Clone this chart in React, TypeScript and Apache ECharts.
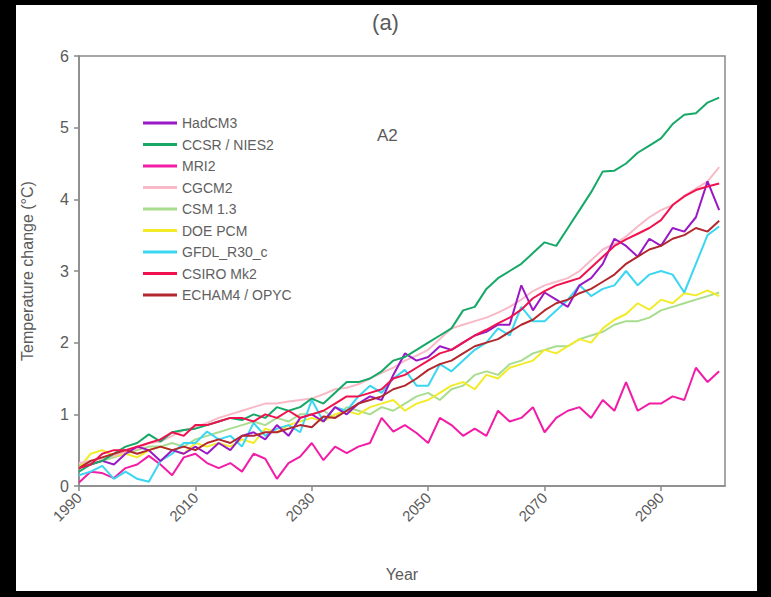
import React, { useEffect, useRef } from 'react';
import * as echarts from 'echarts';

const years = [
  1990, 1992, 1994, 1996, 1998, 2000, 2002, 2004, 2006, 2008,
  2010, 2012, 2014, 2016, 2018, 2020, 2022, 2024, 2026, 2028,
  2030, 2032, 2034, 2036, 2038, 2040, 2042, 2044, 2046, 2048,
  2050, 2052, 2054, 2056, 2058, 2060, 2062, 2064, 2066, 2068,
  2070, 2072, 2074, 2076, 2078, 2080, 2082, 2084, 2086, 2088,
  2090, 2092, 2094, 2096, 2098, 2100,
];

const hadcm3 = [
  0.25, 0.3, 0.35, 0.3, 0.45, 0.55, 0.5, 0.35, 0.5, 0.45,
  0.55, 0.45, 0.6, 0.5, 0.7, 0.75, 0.65, 0.85, 0.7, 0.95,
  1.0, 0.9, 1.1, 1.0, 1.15, 1.25, 1.2, 1.55, 1.85, 1.75,
  1.8, 1.95, 1.9, 2.0, 2.1, 2.15, 2.25, 2.25, 2.8, 2.45,
  2.7, 2.6, 2.5, 2.8, 2.9, 3.1, 3.45, 3.35, 3.2, 3.45,
  3.35, 3.6, 3.55, 3.75, 4.25, 3.85,
];
const ccsr = [
  0.2, 0.3, 0.35, 0.45, 0.55, 0.6, 0.72, 0.62, 0.75, 0.78,
  0.8, 0.85, 0.9, 0.95, 0.92, 1.0, 0.95, 1.1, 1.05, 1.1,
  1.22, 1.15, 1.3, 1.45, 1.45, 1.5, 1.6, 1.75, 1.8, 1.9,
  2.0, 2.1, 2.2, 2.45, 2.5, 2.75, 2.9, 3.0, 3.1, 3.25,
  3.4, 3.35, 3.6, 3.85, 4.1, 4.39, 4.4, 4.5, 4.65, 4.75,
  4.85, 5.05, 5.18, 5.2, 5.35, 5.42,
];
const mri2 = [
  0.05, 0.2, 0.18, 0.11, 0.25, 0.3, 0.42, 0.3, 0.15, 0.4,
  0.45, 0.32, 0.25, 0.32, 0.2, 0.45, 0.38, 0.1, 0.32, 0.41,
  0.6, 0.36, 0.55, 0.46, 0.55, 0.6, 0.95, 0.76, 0.85, 0.74,
  0.6, 0.95, 0.85, 0.7, 0.8, 0.7, 1.05, 0.9, 0.95, 1.1,
  0.75, 0.95, 1.05, 1.1, 0.95, 1.2, 1.05, 1.45, 1.05, 1.15,
  1.15, 1.25, 1.2, 1.65, 1.45, 1.6,
];
const cgcm2 = [
  0.32, 0.35, 0.38, 0.42, 0.48, 0.52, 0.6, 0.62, 0.7, 0.78,
  0.82, 0.88, 0.95, 1.0, 1.05, 1.1, 1.15, 1.15, 1.18, 1.2,
  1.22, 1.28, 1.35, 1.37, 1.42, 1.5, 1.58, 1.65, 1.75, 1.82,
  1.9, 2.05, 2.2, 2.25, 2.3, 2.35, 2.42, 2.5, 2.6, 2.72,
  2.8, 2.85, 2.9, 3.0, 3.15, 3.3, 3.38, 3.48, 3.62, 3.75,
  3.85, 3.92, 4.05, 4.15, 4.25, 4.45,
];
const csm13 = [
  0.3, 0.32, 0.35, 0.4, 0.45, 0.5, 0.55, 0.55, 0.6, 0.55,
  0.65, 0.7, 0.75, 0.8, 0.85, 0.9, 0.85, 0.95, 0.9, 1.0,
  1.0, 1.05, 0.95, 1.1, 1.05, 1.0, 1.1, 1.05, 1.15, 1.25,
  1.3, 1.2, 1.35, 1.4, 1.55, 1.6, 1.55, 1.7, 1.75, 1.85,
  1.9, 1.95, 1.95, 2.05, 2.1, 2.15, 2.25, 2.3, 2.3, 2.35,
  2.45, 2.5, 2.55, 2.6, 2.65, 2.7,
];
const doepcm = [
  0.25, 0.45, 0.5, 0.42, 0.45, 0.4, 0.5, 0.55, 0.5, 0.45,
  0.6, 0.55, 0.6, 0.55, 0.65, 0.6, 0.8, 0.75, 0.85, 0.9,
  0.95, 0.9, 1.0, 1.05, 1.0, 1.1, 1.15, 1.2, 1.05, 1.15,
  1.2, 1.3, 1.4, 1.45, 1.35, 1.55, 1.5, 1.65, 1.7, 1.75,
  1.9, 1.85, 1.95, 2.05, 2.0, 2.2, 2.32, 2.4, 2.55, 2.46,
  2.6, 2.55, 2.69, 2.66, 2.73, 2.65,
];
const gfdl = [
  0.15, 0.2, 0.28, 0.1, 0.2, 0.1, 0.06, 0.35, 0.45, 0.6,
  0.6, 0.76, 0.65, 0.7, 0.55, 0.88, 0.7, 0.8, 0.85, 0.75,
  1.2, 0.9, 1.1, 1.05, 1.25, 1.4, 1.3, 1.5, 1.62, 1.4,
  1.4, 1.7, 1.6, 1.75, 1.9, 2.0, 2.2, 2.1, 2.5, 2.3,
  2.3, 2.45, 2.6, 2.8, 2.65, 2.75, 2.8, 3.0, 2.8, 2.95,
  3.0, 2.95, 2.7, 3.1, 3.5, 3.62,
];
const csiro = [
  0.25, 0.3, 0.45, 0.5, 0.5, 0.55, 0.6, 0.65, 0.75, 0.7,
  0.85, 0.85, 0.9, 0.95, 0.95, 0.9, 1.0, 0.95, 1.05, 0.95,
  1.0, 1.05, 1.15, 1.25, 1.25, 1.3, 1.35, 1.5, 1.55, 1.65,
  1.75, 1.85, 1.9, 2.0, 2.1, 2.18, 2.27, 2.35, 2.46, 2.62,
  2.72, 2.8, 2.85, 2.9, 3.05, 3.2, 3.35, 3.44, 3.52, 3.6,
  3.71, 3.92, 4.04, 4.13, 4.18, 4.22,
];
const echam4 = [
  0.25, 0.35, 0.4, 0.45, 0.5, 0.45, 0.5, 0.55, 0.5, 0.55,
  0.5, 0.6, 0.65, 0.6, 0.7, 0.7, 0.75, 0.75, 0.8, 0.85,
  0.82, 0.97, 0.95, 1.05, 1.15, 1.2, 1.25, 1.35, 1.4, 1.5,
  1.62, 1.7, 1.75, 1.85, 1.95, 2.0, 2.05, 2.15, 2.25, 2.32,
  2.45, 2.55, 2.6, 2.69, 2.75, 2.85, 2.95, 3.1, 3.2, 3.3,
  3.35, 3.45, 3.5, 3.6, 3.55, 3.7,
];

const legendOrder = [
  'HadCM3', 'CCSR / NIES2', 'MRI2', 'CGCM2', 'CSM 1.3',
  'DOE PCM', 'GFDL_R30_c', 'CSIRO Mk2', 'ECHAM4 / OPYC',
];

// drawing order (later on top)
const seriesDefs: { name: string; values: number[]; color: string }[] = [
  { name: 'MRI2', values: mri2, color: '#f21ca6' },
  { name: 'CSM 1.3', values: csm13, color: '#a8dc8e' },
  { name: 'DOE PCM', values: doepcm, color: '#f2ec28' },
  { name: 'GFDL_R30_c', values: gfdl, color: '#3ad6f2' },
  { name: 'CGCM2', values: cgcm2, color: '#f8bac6' },
  { name: 'HadCM3', values: hadcm3, color: '#9a18c6' },
  { name: 'CCSR / NIES2', values: ccsr, color: '#16a866' },
  { name: 'ECHAM4 / OPYC', values: echam4, color: '#b2282e' },
  { name: 'CSIRO Mk2', values: csiro, color: '#f0124e' },
];

const xTicks = [1990, 2010, 2030, 2050, 2070, 2090];
const FONT = 'Liberation Sans';
const GREY = '#5a5a5a';

export default function App() {
  const ref = useRef<HTMLDivElement>(null);
  useEffect(() => {
    document.body.style.margin = '0';
    const chart = echarts.init(ref.current!, null, { renderer: 'svg' });
    chart.setOption({
      animation: false,
      backgroundColor: 'transparent',
      textStyle: { fontFamily: FONT },
      title: {
        text: '(a)',
        left: 'center',
        top: 6,
        textStyle: { fontSize: 22, fontWeight: 'normal', color: GREY, fontFamily: FONT },
      },
      graphic: [
        {
          type: 'text',
          left: 377,
          top: 127,
          style: { text: 'A2', fontSize: 17, fill: GREY, fontFamily: FONT },
        },
      ],
      legend: {
        data: legendOrder,
        orient: 'vertical',
        left: 138,
        top: 111,
        icon: 'rect',
        itemWidth: 34,
        itemHeight: 3,
        itemGap: 7.5,
        textStyle: { fontSize: 14, color: '#606060', fontFamily: FONT, lineHeight: 14 },
      },
      grid: {
        left: 79,
        right: 46,
        top: 56,
        bottom: 111,
        show: true,
        borderColor: '#8a8a8a',
        borderWidth: 1.5,
        backgroundColor: 'transparent',
      },
      xAxis: {
        type: 'value',
        min: 1990,
        max: 2101,
        interval: 20,
        name: 'Year',
        nameLocation: 'middle',
        nameGap: 80,
        nameTextStyle: { fontSize: 16, color: GREY, fontFamily: FONT },
        axisLine: { show: true, lineStyle: { color: '#8a8a8a', width: 1.5 } },
        axisTick: { show: true, length: 5, customValues: xTicks, lineStyle: { color: '#8a8a8a', width: 1.5 } },
        axisLabel: {
          rotate: 45,
          fontSize: 15,
          color: GREY,
          margin: 9,
          customValues: xTicks,
          formatter: (v: number) => String(v),
        },
        splitLine: { show: false },
      },
      yAxis: {
        type: 'value',
        min: 0,
        max: 6,
        interval: 1,
        name: 'Temperature change (°C)',
        nameLocation: 'middle',
        nameRotate: 90,
        nameGap: 44,
        nameTextStyle: { fontSize: 16, color: GREY, fontFamily: FONT },
        axisLine: { show: true, lineStyle: { color: '#8a8a8a', width: 1.5 } },
        axisTick: { show: true, length: 5, lineStyle: { color: '#8a8a8a', width: 1.5 } },
        axisLabel: { fontSize: 16, color: GREY, margin: 10 },
        splitLine: { show: false },
      },
      series: seriesDefs.map((s) => ({
        name: s.name,
        type: 'line',
        data: years.map((y, i) => [y, s.values[i]]),
        showSymbol: false,
        symbol: 'none',
        color: s.color,
        lineStyle: { color: s.color, width: 2 },
      })),
    });
    return () => chart.dispose();
  }, []);
  return (
    <div style={{ position: 'relative', width: 771, height: 597, background: '#000', overflow: 'hidden' }}>
      <div style={{ position: 'absolute', left: 16, top: 5, width: 741, height: 586, background: '#fff' }} />
      <div ref={ref} style={{ position: 'absolute', left: 0, top: 0, width: 771, height: 597 }} />
    </div>
  );
}
